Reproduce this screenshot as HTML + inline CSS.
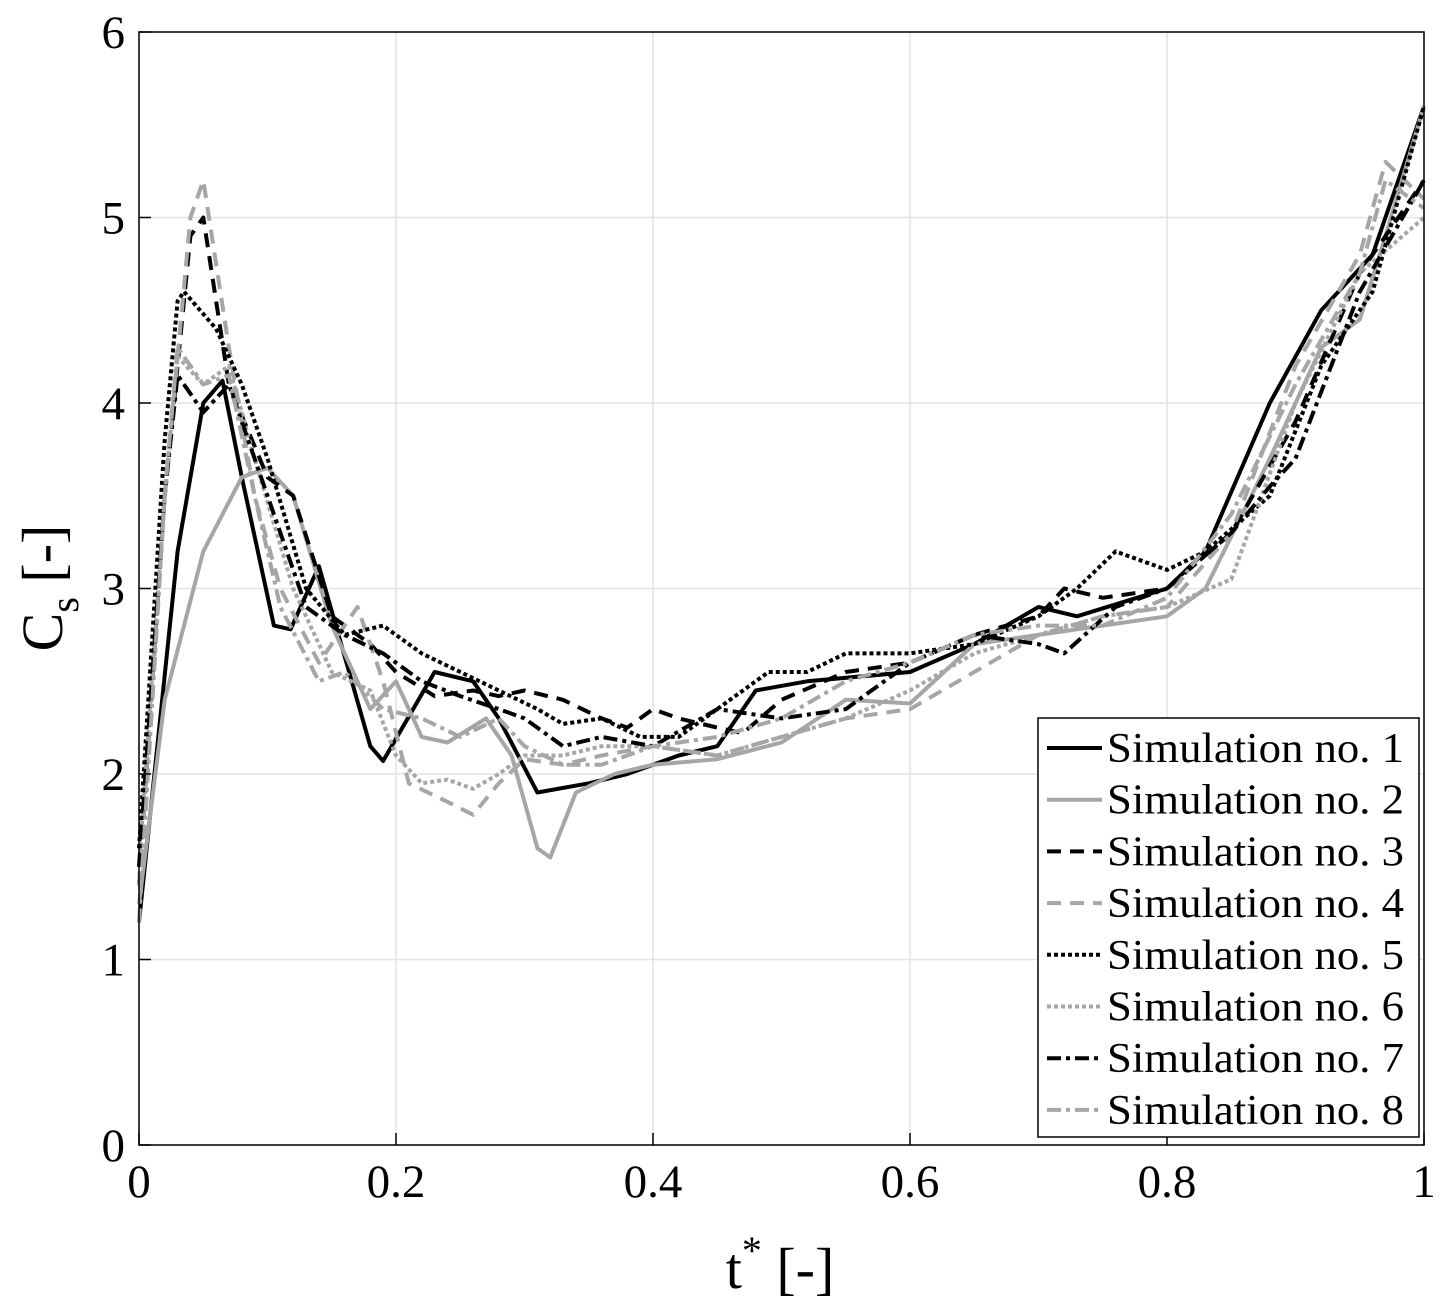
<!DOCTYPE html>
<html><head><meta charset="utf-8"><style>
body{margin:0;background:#fff;}
svg{display:block;font-family:"Liberation Serif",serif;}
</style></head><body>
<svg id="chart" width="1450" height="1312" viewBox="0 0 1450 1312">
<rect width="1450" height="1312" fill="#fff"/>
<g id="grid"></g>
<g id="series"></g>
<rect x="139" y="32" width="1285" height="1113" fill="none" stroke="#000" stroke-width="1.5"/>
<g id="ticks"></g>
<text x="780" y="1288" font-size="58" text-anchor="middle">t<tspan dy="-24" font-size="40">*</tspan><tspan dy="24"> [-]</tspan></text>
<text transform="translate(62,588) rotate(-90)" font-size="58" text-anchor="middle">C<tspan dy="16" font-size="40">s</tspan><tspan dy="-16"> [-]</tspan></text>
<g id="legend"></g>
</svg>
<script>
const xTicks=[0,0.2,0.4,0.6,0.8,1];
const xTickLabels=["0","0.2","0.4","0.6","0.8","1"];
const yTicks=[0,1,2,3,4,5,6];
const yTickLabels=["0","1","2","3","4","5","6"];
const seriesNames=["Simulation no. 1","Simulation no. 2","Simulation no. 3","Simulation no. 4","Simulation no. 5","Simulation no. 6","Simulation no. 7","Simulation no. 8"];
const t1=[0,.03,.05,.065,.08,.105,.118,.14,.18,.19,.23,.26,.28,.31,.35,.38,.42,.45,.48,.52,.6,.65,.7,.73,.8,.83,.88,.92,.96,1];
const v1=[1.2,3.2,4.0,4.12,3.6,2.8,2.78,3.12,2.15,2.07,2.55,2.5,2.3,1.9,1.95,2.0,2.1,2.15,2.45,2.5,2.55,2.7,2.9,2.85,3.0,3.2,4.0,4.5,4.8,5.6];
const t2=[0,.02,.05,.08,.1,.12,.15,.18,.2,.22,.24,.27,.29,.31,.32,.34,.37,.4,.45,.5,.55,.6,.65,.7,.75,.8,.83,.88,.92,.95,.97,1];
const v2=[1.3,2.4,3.2,3.6,3.65,3.5,2.8,2.35,2.5,2.2,2.17,2.3,2.1,1.6,1.55,1.9,2.0,2.05,2.08,2.17,2.4,2.38,2.7,2.75,2.8,2.85,3.0,3.7,4.3,4.45,4.9,5.6];
const t3=[0,.02,.04,.05,.07,.1,.12,.15,.18,.2,.23,.26,.28,.3,.33,.36,.38,.4,.42,.45,.47,.5,.55,.6,.65,.7,.72,.75,.8,.85,.9,.95,1];
const v3=[1.4,3.5,4.9,5.0,4.1,3.6,3.5,2.85,2.7,2.55,2.42,2.45,2.42,2.45,2.4,2.3,2.25,2.35,2.3,2.25,2.22,2.4,2.55,2.6,2.75,2.85,3.0,2.95,3.0,3.3,3.9,4.7,5.2];
const t4=[0,.02,.04,.05,.07,.09,.11,.14,.17,.19,.21,.24,.26,.28,.3,.33,.36,.4,.45,.5,.55,.6,.65,.7,.75,.8,.85,.9,.95,.97,1];
const v4=[1.4,3.5,5.0,5.2,4.3,3.5,3.0,2.6,2.9,2.5,1.95,1.85,1.78,1.95,2.08,2.05,2.1,2.15,2.1,2.2,2.3,2.35,2.55,2.75,2.85,2.9,3.3,4.2,4.8,5.3,5.1];
const t5=[0,.02,.03,.035,.06,.08,.1,.13,.16,.19,.22,.25,.28,.31,.33,.36,.39,.42,.46,.49,.52,.55,.6,.65,.7,.73,.76,.8,.83,.88,.92,.96,1];
const v5=[1.6,3.8,4.55,4.6,4.4,4.1,3.7,3.0,2.75,2.8,2.65,2.55,2.45,2.35,2.27,2.3,2.2,2.2,2.4,2.55,2.55,2.65,2.65,2.7,2.85,3.0,3.2,3.1,3.2,3.5,4.2,4.6,5.6];
const t6=[0,.02,.03,.05,.07,.09,.12,.15,.18,.2,.22,.24,.26,.28,.3,.33,.36,.4,.45,.5,.55,.6,.65,.7,.75,.8,.85,.9,.95,1];
const v6=[1.5,3.5,4.25,4.1,4.2,3.7,3.0,2.55,2.45,2.1,1.95,1.97,1.92,2.0,2.1,2.1,2.15,2.15,2.1,2.2,2.3,2.45,2.65,2.75,2.85,2.9,3.05,4.0,4.7,5.0];
const t7=[0,.02,.03,.05,.07,.1,.13,.16,.19,.22,.25,.28,.3,.33,.36,.4,.45,.5,.55,.6,.65,.7,.72,.76,.8,.85,.88,.9,.95,1];
const v7=[1.5,3.5,4.15,3.95,4.1,3.5,2.9,2.75,2.65,2.5,2.42,2.35,2.3,2.15,2.2,2.15,2.35,2.3,2.35,2.6,2.75,2.7,2.65,2.9,3.0,3.3,3.55,3.7,4.6,5.2];
const t8=[0,.02,.03,.05,.07,.09,.11,.14,.16,.19,.22,.25,.28,.3,.33,.36,.4,.45,.5,.55,.6,.65,.7,.75,.8,.85,.9,.95,.97,1];
const v8=[1.2,3.5,4.3,4.1,4.15,3.5,2.9,2.5,2.55,2.35,2.3,2.2,2.3,2.15,2.05,2.05,2.15,2.2,2.3,2.5,2.6,2.75,2.8,2.8,2.95,3.4,4.1,4.7,5.2,5.05];
const allT=[t1,t2,t3,t4,t5,t6,t7,t8];
const allV=[v1,v2,v3,v4,v5,v6,v7,v8];

const X0=139,X1=1424,Y0=1145,Y1=32;
const xs=t=>X0+t*(X1-X0);
const ys=v=>Y0-v/6*(Y0-Y1);
const NS="http://www.w3.org/2000/svg";
const cols=["#000","#a6a6a6"];
const dashes=["","","14,9","14,9","4,3","4,3","14,5,4,5","14,5,4,5"];
const grid=document.getElementById('grid'),ticks=document.getElementById('ticks');
xTicks.forEach((t,i)=>{
  const l=document.createElementNS(NS,'line');
  
  
  l.setAttribute('x1',xs(t));l.setAttribute('x2',xs(t));l.setAttribute('y1',Y1);l.setAttribute('y2',Y0);
  l.setAttribute('stroke','#e3e3e3');l.setAttribute('stroke-width','1.5');grid.appendChild(l);
  const tk=document.createElementNS(NS,'line');
  
  
  tk.setAttribute('x1',xs(t));tk.setAttribute('x2',xs(t));tk.setAttribute('y1',Y0);tk.setAttribute('y2',Y0-12);
  tk.setAttribute('stroke','#000');tk.setAttribute('stroke-width','1.5');ticks.appendChild(tk);
  const tx=document.createElementNS(NS,'text');
  
  
  tx.setAttribute('x',xs(t));tx.setAttribute('y',Y0+52);tx.setAttribute('font-size','47');tx.setAttribute('text-anchor','middle');
  tx.textContent=xTickLabels[i];ticks.appendChild(tx);
});
yTicks.forEach((v,i)=>{
  const l=document.createElementNS(NS,'line');
  
  
  l.setAttribute('x1',X0);l.setAttribute('x2',X1);l.setAttribute('y1',ys(v));l.setAttribute('y2',ys(v));
  l.setAttribute('stroke','#e3e3e3');l.setAttribute('stroke-width','1.5');grid.appendChild(l);
  const tk=document.createElementNS(NS,'line');
  
  
  tk.setAttribute('x1',X0);tk.setAttribute('x2',X0+12);tk.setAttribute('y1',ys(v));tk.setAttribute('y2',ys(v));
  tk.setAttribute('stroke','#000');tk.setAttribute('stroke-width','1.5');ticks.appendChild(tk);
  const tx=document.createElementNS(NS,'text');
  
  
  tx.setAttribute('x',X0-14);tx.setAttribute('y',ys(v)+16);tx.setAttribute('font-size','47');tx.setAttribute('text-anchor','end');
  tx.textContent=yTickLabels[i];ticks.appendChild(tx);
});
const sg=document.getElementById('series');
allT.forEach((ts,k)=>{
  const p=document.createElementNS(NS,'polyline');
  
  
  p.setAttribute('points',ts.map((t,i)=>xs(t).toFixed(1)+','+ys(allV[k][i]).toFixed(1)).join(' '));
  p.setAttribute('fill','none');p.setAttribute('stroke',cols[k%2]);p.setAttribute('stroke-width','4');
  p.setAttribute('stroke-linejoin','round');
  if(dashes[k])p.setAttribute('stroke-dasharray',dashes[k]);
  sg.appendChild(p);
});
const lg=document.getElementById('legend');
const box=document.createElementNS(NS,'rect');


box.setAttribute('x',1038);box.setAttribute('y',718);box.setAttribute('width',381);box.setAttribute('height',419);
box.setAttribute('fill','#fff');box.setAttribute('stroke','#000');box.setAttribute('stroke-width','1.5');lg.appendChild(box);
seriesNames.forEach((n,k)=>{
  const y=748+k*51.7;
  const l=document.createElementNS(NS,'line');
  
  
  l.setAttribute('x1',1047);l.setAttribute('x2',1102);l.setAttribute('y1',y);l.setAttribute('y2',y);
  l.setAttribute('stroke',cols[k%2]);l.setAttribute('stroke-width','4');
  if(dashes[k])l.setAttribute('stroke-dasharray',dashes[k]);
  lg.appendChild(l);
  const tx=document.createElementNS(NS,'text');
  
  
  tx.setAttribute('x',1107);tx.setAttribute('y',y+14);tx.setAttribute('font-size','42');
  tx.setAttribute('textLength','297');tx.setAttribute('lengthAdjust','spacingAndGlyphs');
  tx.textContent=n;lg.appendChild(tx);
});
</script>
</body></html>
